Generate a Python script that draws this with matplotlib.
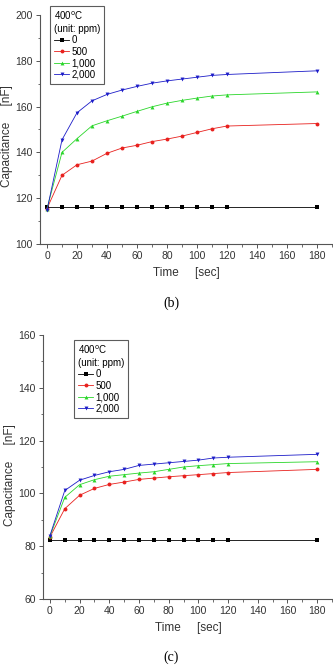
import matplotlib.pyplot as plt
from matplotlib.ticker import MultipleLocator

plt.rcParams['font.family'] = ['Liberation Sans', 'DejaVu Sans']

time = [0, 10, 20, 30, 40, 50, 60, 70, 80, 90, 100, 110, 120, 180]
labels = ['0', '500', '1,000', '2,000']

# panel (b)
b_0 = [116, 116, 116, 116, 116, 116, 116, 116, 116, 116, 116, 116, 116, 116]
b_500 = [115.5, 130, 134.6, 136.2, 139.6, 141.9, 143.1, 144.7, 145.8, 147.1, 148.7, 150.3, 151.5, 152.6]
b_1000 = [115.5, 140, 146, 151.6, 153.8, 155.8, 157.9, 159.9, 161.5, 162.7, 163.7, 164.6, 165.1, 166.4]
b_2000 = [114.8, 145.5, 157.3, 162.5, 165.3, 167.2, 168.8, 170.2, 171.2, 172, 172.8, 173.6, 174, 175.6]

# panel (c)
c_0 = [82.3, 82.3, 82.3, 82.3, 82.3, 82.3, 82.3, 82.3, 82.3, 82.3, 82.3, 82.3, 82.3, 82.3]
c_500 = [83.5, 94.2, 99.3, 101.9, 103.4, 104.3, 105.3, 105.8, 106.3, 106.7, 107.1, 107.5, 107.9, 109.1]
c_1000 = [83.8, 98.5, 103.3, 105.2, 106.5, 107.1, 107.7, 108.2, 109.1, 110, 110.5, 110.9, 111.3, 112]
c_2000 = [84, 101.1, 105, 106.8, 108.2, 109.1, 110.6, 111.1, 111.6, 112.1, 112.6, 113.4, 113.7, 114.8]

colors = ['#000000', '#e8211e', '#2ad62a', '#1c1cc8']
markers = ['s', 'o', '^', 'v']

fig = plt.figure(figsize=(3.33, 6.66), dpi=100)
fig.patch.set_facecolor('white')


def panel(rect, series, ylim, legend_xy, caption, cap_y, ylab_x):
    ax = fig.add_axes(rect)
    for s, lab, c, m in zip(series, labels, colors, markers):
        ax.plot(time, s, color=c, marker=m, markersize=2.8, linewidth=0.6,
                label=lab, markeredgewidth=0)
    ax.set_xlim(-4.7, 190.7)
    ax.set_ylim(*ylim)
    ax.xaxis.set_major_locator(MultipleLocator(20))
    ax.xaxis.set_minor_locator(MultipleLocator(10))
    ax.yaxis.set_major_locator(MultipleLocator(20))
    ax.yaxis.set_minor_locator(MultipleLocator(10))
    for sp in ['top', 'right']:
        ax.spines[sp].set_visible(False)
    for sp in ['left', 'bottom']:
        ax.spines[sp].set_color('#555555')
        ax.spines[sp].set_linewidth(0.8)
    ax.tick_params(which='major', length=3, width=0.7, colors='#555555',
                   labelsize=7.5, labelcolor='#333333', pad=2)
    ax.tick_params(which='minor', length=1.8, width=0.6, colors='#555555')
    ax.set_xlabel('Time     [sec]', fontsize=8.5, color='#333333', labelpad=4)
    ax.set_ylabel('Capacitance     [nF]', fontsize=8.5, color='#333333')
    ax.yaxis.set_label_coords(ylab_x, 0.47)
    leg = ax.legend(title='400$^{\\rm o}$C\n(unit: ppm)', loc='upper left',
                    bbox_to_anchor=legend_xy, bbox_transform=fig.transFigure,
                    fontsize=7, title_fontsize=7, frameon=True, fancybox=False,
                    borderaxespad=0, handlelength=1.6, handletextpad=0.2,
                    labelspacing=0.15, borderpad=0.4)
    leg._legend_box.align = 'left'
    leg.get_frame().set_edgecolor('#333333')
    leg.get_frame().set_linewidth(0.8)
    fig.text(0.515, cap_y, caption, ha='center', va='center',
             fontsize=10, family=['Liberation Serif', 'DejaVu Serif'])
    return ax


panel([0.120, 0.6336, 0.880, 0.344], [b_0, b_500, b_1000, b_2000], (100, 200),
      (50 / 333, 1 - 6 / 666), '(b)', 1 - 303 / 666, -0.092)
panel([0.129, 0.1006, 0.871, 0.3964], [c_0, c_500, c_1000, c_2000], (60, 160),
      (74 / 333, 1 - 340 / 666), '(c)', 1 - 657 / 666, -0.093)

fig.savefig('out.png', dpi=100, facecolor='white')
